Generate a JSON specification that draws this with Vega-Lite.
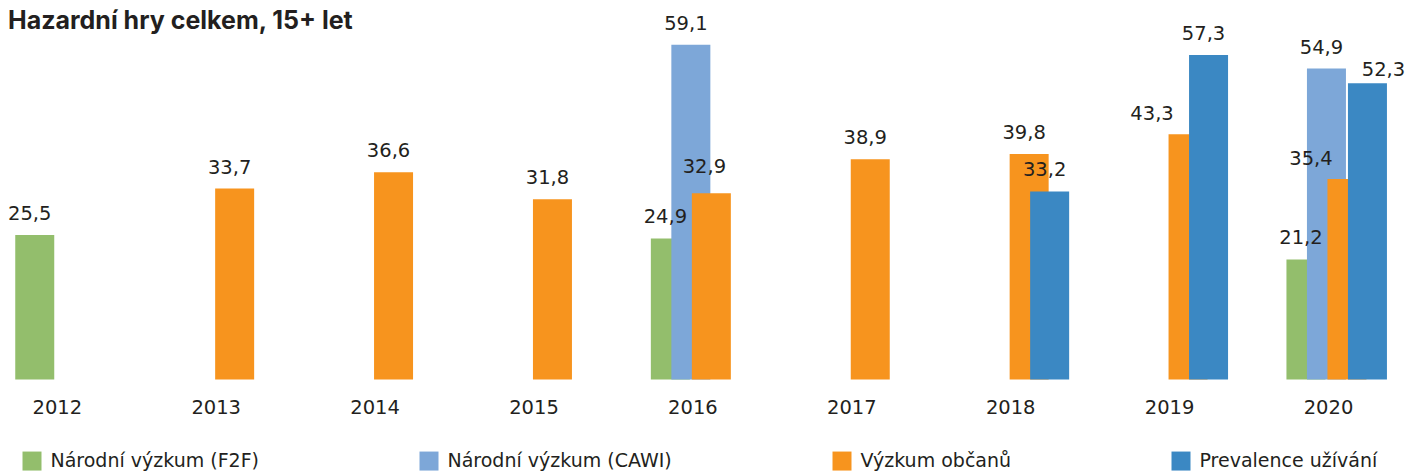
{
  "$schema": "https://vega.github.io/schema/vega-lite/v6.json",
  "width": 1405,
  "height": 368.2,
  "autosize": {"type": "none"},
  "padding": {"left": 0, "top": 11.3, "right": 0, "bottom": 93.5},
  "background": "white",
  "config": {
    "view": {"stroke": null},
    "locale": {"number": {"decimal": ",", "thousands": " ", "grouping": [3], "currency": ["", " Kč"]}}
  },
  "title": {
    "text": "Hazardní hry celkem, 15+ let",
    "anchor": "start",
    "frame": "group",
    "orient": "top",
    "offset": -22,
    "dx": 8,
    "dy": 21,
    "baseline": "alphabetic",
    "font": "Inter",
    "fontSize": 25,
    "fontWeight": "bold",
    "color": "#231F20"
  },
  "data": {
    "values": [
      {"year": 2012, "series": "Národní výzkum (F2F)", "value": 25.5},
      {"year": 2016, "series": "Národní výzkum (F2F)", "value": 24.9},
      {"year": 2020, "series": "Národní výzkum (F2F)", "value": 21.2},
      {"year": 2016, "series": "Národní výzkum (CAWI)", "value": 59.1},
      {"year": 2020, "series": "Národní výzkum (CAWI)", "value": 54.9},
      {"year": 2013, "series": "Výzkum občanů", "value": 33.7},
      {"year": 2014, "series": "Výzkum občanů", "value": 36.6},
      {"year": 2015, "series": "Výzkum občanů", "value": 31.8},
      {"year": 2016, "series": "Výzkum občanů", "value": 32.9},
      {"year": 2017, "series": "Výzkum občanů", "value": 38.9},
      {"year": 2018, "series": "Výzkum občanů", "value": 39.8},
      {"year": 2019, "series": "Výzkum občanů", "value": 43.3},
      {"year": 2020, "series": "Výzkum občanů", "value": 35.4},
      {"year": 2018, "series": "Prevalence užívání", "value": 33.2},
      {"year": 2019, "series": "Prevalence užívání", "value": 57.3},
      {"year": 2020, "series": "Prevalence užívání", "value": 52.3}
    ]
  },
  "encoding": {
    "x": {
      "field": "year",
      "type": "ordinal",
      "scale": {"range": [-4.2, 1390.0], "paddingInner": 0.22593, "paddingOuter": 0},
      "axis": {
        "title": null,
        "domain": false,
        "ticks": false,
        "labelAngle": 0,
        "labelFont": "DejaVu Sans",
        "labelFontSize": 19.5,
        "labelColor": "#231F20",
        "labelPadding": 19
      }
    },
    "xOffset": {
      "field": "series",
      "type": "nominal",
      "scale": {
        "domain": ["Národní výzkum (F2F)", "Národní výzkum (CAWI)", "Výzkum občanů", "Prevalence užívání"],
        "paddingInner": 0,
        "paddingOuter": 1,
        "align": 0.70
      }
    },
    "y": {"field": "value", "type": "quantitative", "scale": {"domain": [0, 65]}, "axis": null}
  },
  "layer": [
    {
      "mark": {"type": "bar", "width": 39},
      "encoding": {
        "color": {
          "field": "series",
          "type": "nominal",
          "scale": {
            "domain": ["Národní výzkum (F2F)", "Národní výzkum (CAWI)", "Výzkum občanů", "Prevalence užívání"],
            "range": ["#93BE6C", "#7DA7D8", "#F7941E", "#3B88C3"]
          },
          "legend": {
            "orient": "none",
            "legendX": 22.5,
            "legendY": 440,
            "direction": "horizontal",
            "title": null,
            "padding": 0,
            "symbolType": "square",
            "symbolSize": 361,
            "symbolStrokeWidth": 0,
            "symbolOpacity": 1,
            "labelFont": "DejaVu Sans",
            "labelFontSize": 19,
            "labelLimit": 400,
            "labelColor": "#231F20",
            "labelOffset": 9,
            "columnPadding": 160
          }
        }
      }
    },
    {
      "transform": [
        {"filter": "!((datum.year == 2016 && datum.series == 'Výzkum občanů') || (datum.year >= 2019 && datum.series == 'Výzkum občanů') || (datum.year == 2020 && datum.series == 'Prevalence užívání'))"}
      ],
      "mark": {"type": "text", "font": "DejaVu Sans", "fontSize": 19.5, "color": "#231F20", "baseline": "alphabetic", "dx": -5, "dy": -15},
      "encoding": {"text": {"field": "value", "type": "quantitative", "format": ".1f"}}
    },
    {
      "transform": [{"filter": "datum.year == 2016 && datum.series == 'Výzkum občanů'"}],
      "mark": {"type": "text", "font": "DejaVu Sans", "fontSize": 19.5, "color": "#231F20", "baseline": "alphabetic", "dx": -7, "dy": -20},
      "encoding": {"text": {"field": "value", "type": "quantitative", "format": ".1f"}}
    },
    {
      "transform": [{"filter": "datum.year >= 2019 && datum.series == 'Výzkum občanů'"}],
      "mark": {"type": "text", "font": "DejaVu Sans", "fontSize": 19.5, "color": "#231F20", "baseline": "alphabetic", "dx": -36, "dy": -14},
      "encoding": {"text": {"field": "value", "type": "quantitative", "format": ".1f"}}
    },
    {
      "transform": [{"filter": "datum.year == 2020 && datum.series == 'Prevalence užívání'"}],
      "mark": {"type": "text", "font": "DejaVu Sans", "fontSize": 19.5, "color": "#231F20", "baseline": "alphabetic", "dx": 16, "dy": -7},
      "encoding": {"text": {"field": "value", "type": "quantitative", "format": ".1f"}}
    }
  ]
}
